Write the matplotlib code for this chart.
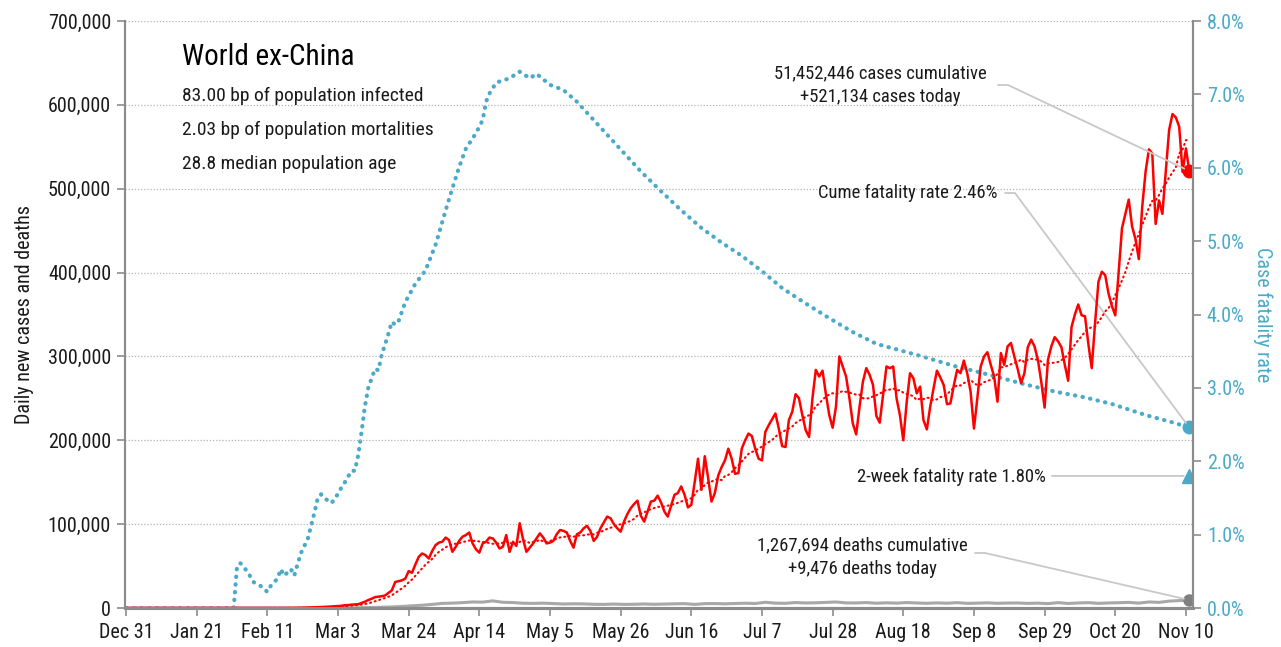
import numpy as np
import pandas as pd
import matplotlib
matplotlib.use("Agg")
import matplotlib.pyplot as plt

plt.rcParams['font.family'] = ['Roboto Condensed', 'DejaVu Sans']

# daily new cases, world ex-China, day 0 = Dec 31 2019
cases = [
    0, 0, 0, 0, 0, 0, 0, 0, 0, 0,
    0, 0, 0, 0, 5, 3, 4, 6, 8, 10,
    12, 15, 15, 20, 25, 30, 30, 35, 40, 45,
    45, 50, 55, 60, 60, 60, 55, 55, 60, 60,
    55, 60, 70, 60, 60, 70, 80, 90, 100, 110,
    100, 150, 250, 350, 500, 550, 700, 850, 1000, 1200,
    1500, 1800, 2000, 2300, 2600, 3300, 3500, 4000, 4200, 4500,
    6000, 7500, 9500, 11000, 13000, 13500, 14000, 15000, 18000, 21000,
    31000, 32000, 33000, 35000, 44000, 42000, 52000, 61000, 65000, 63000,
    59000, 68000, 75000, 78000, 79000, 84000, 81000, 67000, 73000, 80000,
    85000, 87000, 90000, 77000, 70000, 66000, 77000, 79000, 84000, 83000,
    78000, 71000, 73000, 87000, 67000, 79000, 74000, 101000, 82000, 67000,
    72000, 77000, 83000, 89000, 84000, 77000, 78000, 80000, 88000, 93000,
    92000, 90000, 80000, 72000, 88000, 90000, 95000, 98000, 92000, 80000,
    85000, 95000, 102000, 109000, 107000, 100000, 95000, 91000, 103000, 112000,
    119000, 124000, 128000, 110000, 103000, 115000, 127000, 128000, 134000, 126000,
    115000, 109000, 122000, 135000, 137000, 145000, 135000, 120000, 123000, 150000,
    178000, 141000, 181000, 155000, 127000, 137000, 158000, 168000, 176000, 190000,
    178000, 160000, 161000, 190000, 200000, 208000, 205000, 190000, 178000, 176000,
    210000, 218000, 225000, 232000, 214000, 193000, 192000, 224000, 234000, 255000,
    250000, 230000, 212000, 204000, 250000, 284000, 276000, 283000, 255000, 230000,
    215000, 240000, 300000, 288000, 276000, 250000, 220000, 207000, 240000, 270000,
    286000, 278000, 266000, 229000, 221000, 255000, 288000, 286000, 288000, 250000,
    230000, 200000, 245000, 280000, 274000, 256000, 264000, 224000, 213000, 240000,
    262000, 283000, 275000, 266000, 243000, 244000, 265000, 284000, 280000, 295000,
    280000, 258000, 214000, 250000, 288000, 300000, 305000, 290000, 276000, 246000,
    304000, 290000, 312000, 316000, 300000, 285000, 268000, 280000, 311000, 320000,
    312000, 296000, 270000, 239000, 296000, 312000, 323000, 318000, 311000, 290000,
    271000, 335000, 350000, 362000, 349000, 348000, 315000, 286000, 340000, 389000,
    401000, 397000, 375000, 360000, 349000, 400000, 453000, 470000, 487000, 455000,
    440000, 416000, 478000, 520000, 547000, 542000, 458000, 486000, 470000, 520000,
    570000, 589000, 585000, 574000, 520000, 548000, 521134,
]

# daily deaths (sampled days)
death_days = [0, 40, 43, 46, 49, 52, 55, 58, 61, 64, 67, 70, 73, 76, 79, 82, 85, 88,
              91, 94, 97, 100, 103, 106, 109, 112, 115, 118, 121, 124, 127, 130,
              133, 136, 139, 142, 145, 148, 151, 154, 157, 160, 163, 166, 169, 172,
              175, 178, 181, 184, 187, 190, 193, 196, 199, 202, 205, 208, 211, 214,
              217, 220, 223, 226, 229, 232, 235, 238, 241, 244, 247, 250, 253, 256,
              259, 262, 265, 268, 271, 274, 277, 280, 283, 286, 289, 292, 295, 298,
              301, 304, 307, 310, 313, 316]
deaths = [0, 3, 5, 5, 10, 15, 30, 40, 60, 100, 200, 400, 600, 900, 1300, 1800, 2600, 3300,
          4300, 5500, 5800, 6400, 7200, 7000, 8500, 6800, 6500, 5700, 5500, 5800, 5300, 4800,
          5000, 4900, 4400, 4300, 4700, 4300, 4400, 4800, 4400, 4700, 5000, 5200, 4300, 5200,
          5300, 5000, 5400, 5700, 5400, 6800, 5800, 5600, 6500, 6000, 6200, 6700, 7200, 6100,
          6000, 6500, 5700, 6200, 5800, 6500, 6000, 5600, 6100, 5700, 6400, 5500, 5800, 6200,
          5600, 5900, 6000, 5500, 5800, 5200, 6400, 5400, 6000, 6400, 5500, 6000, 6300, 6700,
          5800, 7200, 6700, 8200, 8800, 9476]

# cumulative case fatality rate, %
cfr_days = [0, 32, 33, 34, 36, 38, 40, 42, 43, 45, 46, 47, 49, 50, 51, 52, 54, 56, 57, 58,
            60, 61, 62, 64, 65, 67, 68, 69, 70, 71, 72, 74, 75, 76, 78, 79, 80, 81, 83, 86,
            89, 92, 95, 97, 99, 101, 104, 106, 107, 108, 110, 114, 117, 120, 122, 126, 130,
            134, 141, 147, 153, 159, 165, 171, 177, 183, 189, 195, 202, 209, 216, 223, 231,
            238, 246, 253, 258, 267, 276, 285, 293, 303, 311, 316]
cfr = [0, 0, 0.57, 0.61, 0.50, 0.35, 0.30, 0.22, 0.30, 0.40, 0.53, 0.44, 0.53, 0.44, 0.60,
       0.75, 0.94, 1.30, 1.50, 1.55, 1.46, 1.43, 1.48, 1.64, 1.71, 1.87, 1.87, 2.08, 2.40,
       2.75, 3.00, 3.26, 3.24, 3.45, 3.74, 3.90, 3.86, 3.91, 4.17, 4.42, 4.60, 4.95, 5.42,
       5.72, 6.01, 6.26, 6.47, 6.65, 6.90, 7.01, 7.16, 7.22, 7.31, 7.22, 7.28, 7.13, 7.06,
       6.90, 6.55, 6.25, 5.95, 5.68, 5.42, 5.18, 4.98, 4.80, 4.59, 4.36, 4.15, 3.95, 3.76,
       3.60, 3.50, 3.41, 3.30, 3.22, 3.16, 3.05, 2.95, 2.87, 2.78, 2.63, 2.53, 2.46]

two_week_cfr = 1.80
xtick_labels = ['Dec 31', 'Jan 21', 'Feb 11', 'Mar 3', 'Mar 24', 'Apr 14', 'May 5', 'May 26',
                'Jun 16', 'Jul 7', 'Jul 28', 'Aug 18', 'Sep 8', 'Sep 29', 'Oct 20', 'Nov 10']
info_lines = ['83.00 bp of population infected', '2.03 bp of population mortalities',
              '28.8 median population age']

RED = '#ff0000'
BLUE = '#4aaac8'
GRAY = '#a8a8a8'
LINEC = '#c8c8c8'
TXT = '#1a1a1a'
FS = 14.5     # tick labels
AFS = 13.4    # annotations

W, H = 1281, 647
fig = plt.figure(figsize=(W / 100, H / 100), dpi=100)
ax = fig.add_axes([125 / W, 39 / H, (1193 - 125) / W, (608 - 21) / H])
ax2 = ax.twinx()
ax.set_zorder(2)
ax.patch.set_visible(False)

days = np.arange(len(cases))
trend = pd.Series(cases).rolling(7, min_periods=1).mean()
last = days[-1]

# case fatality rate (right axis)
ax2.plot(cfr_days, cfr, color=BLUE, lw=3.0, linestyle=(0, (0.1, 1.75)),
         dash_capstyle='round')
ax2.plot([cfr_days[-1]], [cfr[-1]], 'o', color=BLUE, ms=9)
ax2.plot([last], [two_week_cfr], '^', color=BLUE, ms=10)

# cases & deaths (left axis)
ax.plot(death_days, deaths, color=GRAY, lw=2.2)
ax.plot(days, trend, color=RED, lw=1.5, linestyle=(0, (0.5, 1.8)), dash_capstyle='round')
ax.plot(days, cases, color=RED, lw=1.8)
ax.plot([last], [cases[-1]], 'o', color=RED, ms=9)
ax.plot([death_days[-1]], [deaths[-1]], 'o', color='#808080', ms=8)

ax.set_xlim(-0.3, 317.1)
ax.set_ylim(0, 700000)
ax2.set_ylim(0, 8)

ax.set_yticks(np.arange(0, 700001, 100000))
ax.set_yticklabels([f'{v:,}' for v in range(0, 700001, 100000)])
ax2.set_yticks(np.arange(0, 9))
ax2.set_yticklabels([f'{v:.1f}%' for v in range(0, 9)])
ax.set_xticks(np.arange(0, 316, 21))
ax.set_xticklabels(xtick_labels)

ax.grid(axis='y', color='#b4b4b4', linestyle=(0, (1, 1.5)), lw=0.9)
ax.set_axisbelow(True)

for a in (ax, ax2):
    a.spines['top'].set_visible(False)
    for s in ('left', 'right', 'bottom'):
        a.spines[s].set_color('#8c8c8c')
        a.spines[s].set_linewidth(1.5)
    a.spines['bottom'].set_linewidth(2.2)

ax.tick_params(axis='y', length=6, width=1.2, color='#8c8c8c', labelsize=FS,
               labelcolor=TXT, pad=4)
ax.tick_params(axis='x', length=6, width=1.2, color='#8c8c8c', labelsize=FS,
               labelcolor=TXT, pad=5)
ax2.tick_params(axis='y', length=6, width=1.2, color='#8c8c8c', labelsize=FS,
                labelcolor=BLUE, pad=4)

ax.set_ylabel('Daily new cases and deaths', fontsize=FS, color=TXT, labelpad=10)
ax2.set_ylabel('Case fatality rate', fontsize=FS, color=BLUE, rotation=270, labelpad=20)

# title block
fig.text(182 / W, 1 - 57 / H, 'World ex-China', fontsize=21, color='black',
         ha='left', va='center')
for i, line in enumerate(info_lines):
    fig.text(182 / W, 1 - (96 + 34 * i) / H, line, fontsize=14, color=TXT,
             ha='left', va='center')

# annotations
fig.text(880 / W, 1 - 85 / H, '51,452,446 cases cumulative\n+521,134 cases today',
         fontsize=AFS, color=TXT, ha='center', va='center', linespacing=1.4)
fig.text(998 / W, 1 - 193 / H, 'Cume fatality rate 2.46%', fontsize=AFS, color=TXT,
         ha='right', va='center')
fig.text(1046 / W, 1 - 477 / H, '2-week fatality rate 1.80%', fontsize=AFS, color=TXT,
         ha='right', va='center')
fig.text(862 / W, 1 - 557 / H, '1,267,694 deaths cumulative\n+9,476 deaths today',
         fontsize=AFS, color=TXT, ha='center', va='center', linespacing=1.4)


def connector(axis, xy, x0, y0, stub=10):
    px, py = axis.transData.transform(xy)
    fy0 = H - y0
    ang = np.degrees(np.arctan2(py - fy0, px - (x0 + stub)))
    if abs(py - fy0) < 1:
        style = 'arc3,rad=0'
    else:
        style = f'angle,angleA=0,angleB={ang},rad=0'
    axis.annotate('', xy=xy, xycoords='data', xytext=(x0, fy0), textcoords='figure pixels',
                  arrowprops=dict(arrowstyle='-', color=LINEC, lw=1.3, shrinkA=0, shrinkB=4,
                                  connectionstyle=style), zorder=5)


connector(ax, (last, cases[-1]), 998, 85)
connector(ax2, (cfr_days[-1], cfr[-1]), 1005, 193)
py2 = ax2.transData.transform((last, two_week_cfr))[1]
connector(ax2, (last, two_week_cfr), 1052, H - py2)
connector(ax, (death_days[-1], deaths[-1]), 975, 553)

fig.savefig('out.png', dpi=100)
